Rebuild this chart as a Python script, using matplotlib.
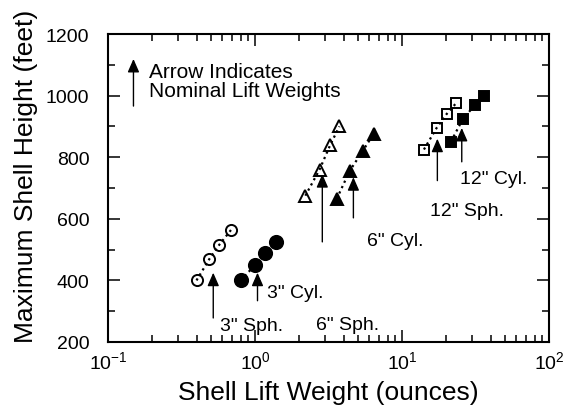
import matplotlib
matplotlib.use("Agg")
import matplotlib.pyplot as plt
from matplotlib.ticker import MultipleLocator, LogLocator

plt.rcParams['font.family'] = ['Liberation Sans', 'DejaVu Sans']
plt.rcParams['mathtext.fontset'] = 'custom'
plt.rcParams['mathtext.rm'] = 'Liberation Sans'
plt.rcParams['mathtext.it'] = 'Liberation Sans:italic'
plt.rcParams['mathtext.bf'] = 'Liberation Sans:bold'

# shell lift weight (oz) vs maximum height (ft)
sph3_w = [0.40, 0.49, 0.57, 0.69]
sph3_h = [400, 470, 515, 565]
cyl3_w = [0.80, 1.00, 1.17, 1.38]
cyl3_h = [400, 450, 490, 525]
sph6_w = [2.2, 2.75, 3.25, 3.75]
sph6_h = [675, 760, 840, 900]
cyl6_w = [3.6, 4.4, 5.4, 6.4]
cyl6_h = [665, 755, 820, 875]
sph12_w = [14.1, 17.2, 20.1, 23.3]
sph12_h = [825, 895, 940, 975]
cyl12_w = [21.5, 26.0, 31.5, 36.0]
cyl12_h = [850, 925, 970, 1000]

# nominal lift weight arrows: (weight, tip height, tail height)
arrows = [
    (0.52, 425, 278),
    (1.04, 425, 334),
    (2.87, 745, 525),
    (4.67, 735, 603),
    (17.4, 860, 724),
    (25.5, 895, 785),
]

# labels: (text, x, y)
labels = [
    ('3" Sph.', 0.578, 255),
    ('3" Cyl.', 1.21, 360),
    ('6" Sph.', 2.6, 258),
    ('6" Cyl.', 5.78, 531),
    ('12" Sph.', 15.5, 626),
    ('12" Cyl.', 24.8, 732),
]

fig = plt.figure(figsize=(5.69, 4.10), dpi=100)
ax = fig.add_axes([108 / 569, 67 / 410, 441 / 569, 308 / 410])

series = [
    (sph3_w, sph3_h, 'o', 'none', 8),
    (cyl3_w, cyl3_h, 'o', 'k', 9.5),
    (sph6_w, sph6_h, '^', 'none', 8),
    (cyl6_w, cyl6_h, '^', 'k', 8),
    (sph12_w, sph12_h, 's', 'none', 7),
    (cyl12_w, cyl12_h, 's', 'k', 7),
]
for w, h, m, fc, ms in series:
    ax.plot(w, h, linestyle=':', color='k', lw=1.6, marker=m, ms=ms,
            markerfacecolor=fc, markeredgecolor='k', markeredgewidth=1.4)

arrow_style = dict(arrowstyle='-|>,head_length=0.8,head_width=0.35',
                   color='k', lw=1.0, shrinkA=0, shrinkB=0, mutation_scale=10)

for x, tip, tail in arrows:
    ax.annotate('', xy=(x, tip), xytext=(x, tail), arrowprops=arrow_style)

for txt, x, y in labels:
    ax.text(x, y, txt, fontsize=14, ha='left', va='center')

# key arrow
ax.annotate('', xy=(0.149, 1119), xytext=(0.149, 966), arrowprops=arrow_style)
ax.text(0.190, 1046, 'Arrow Indicates\nNominal Lift Weights', fontsize=15,
        ha='left', va='center', linespacing=1.0)

ax.set_xscale('log')
ax.set_xlim(0.1, 100)
ax.set_ylim(200, 1200)
ax.yaxis.set_major_locator(MultipleLocator(200))
ax.yaxis.set_minor_locator(MultipleLocator(100))
ax.xaxis.set_major_locator(LogLocator(base=10, numticks=10))

for s in ax.spines.values():
    s.set_linewidth(1.5)
ax.tick_params(which='both', direction='in', top=True, right=True, width=1.1)
ax.tick_params(which='major', length=8.5)
ax.tick_params(which='minor', length=5)
ax.tick_params(axis='y', labelsize=14, pad=13.5)
ax.tick_params(axis='x', labelsize=14, pad=6)

ax.set_xlabel('Shell Lift Weight (ounces)', fontsize=19)
ax.xaxis.set_label_coords(0.5, -0.185)
ax.xaxis.label.set_va('baseline')
ax.set_ylabel('Maximum Shell Height (feet)', fontsize=19)
ax.yaxis.set_label_coords(-0.170, 0.542)
ax.yaxis.label.set_va('baseline')

fig.savefig('out.png', dpi=100)
